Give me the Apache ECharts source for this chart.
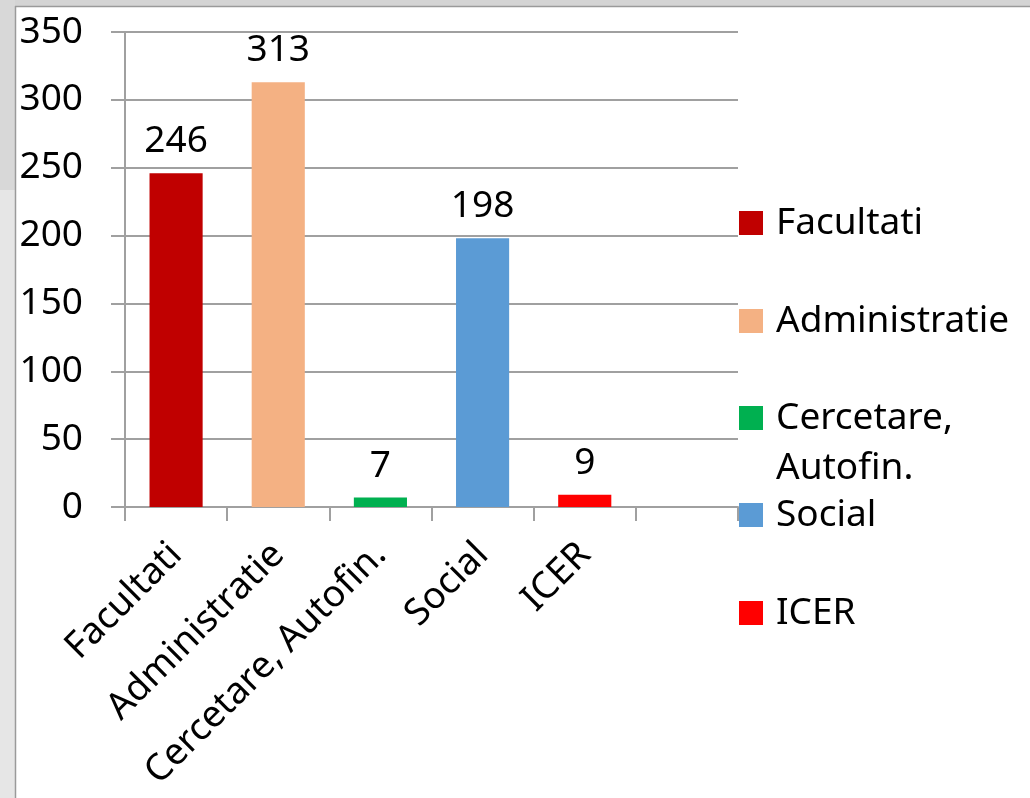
<!DOCTYPE html>
<html>
<head>
<meta charset="utf-8">
<script src="https://cdn.jsdelivr.net/npm/echarts@6/dist/echarts.min.js"></script>
<style>
  html, body { margin: 0; padding: 0; background: #fff; }
  #chart { width: 1030px; height: 798px; }
</style>
</head>
<body>
<div id="chart"></div>
<script>
// categorii (ultima e goala, ca in original)
const categories = ['Facultati', 'Administratie', 'Cercetare, Autofin.', 'Social', 'ICER', '']
const seriesNames = ['Facultati', 'Administratie', 'Cercetare, Autofin.', 'Social', 'ICER']
const values = [246, 313, 7, 198, 9]
const colors = ['#c00000', '#f4b183', '#00b050', '#5b9bd5', '#ff0000']
const yTicks = [0, 50, 100, 150, 200, 250, 300, 350]

// pozitia fiecarui element din legenda
const legendTops = [198, 296, 343, 490, 588]

const font = 'Noto Sans'
const fontSize = 37

let myChart = echarts.init(document.getElementById('chart'))

let series = seriesNames.map((name, i) => ({
  name: name,
  type: 'bar',
  stack: 'all',
  barWidth: '52%',
  data: categories.map((c, j) => (j === i ? values[i] : '-')),
  itemStyle: { color: colors[i] },
  label: {
    show: true,
    position: 'top',
    distance: 13,
    color: '#000',
    fontFamily: font,
    fontSize: fontSize
  },
  animation: false
}))

let legends = seriesNames.map((name, i) => ({
  data: [name],
  left: 739,
  top: legendTops[i],
  itemWidth: 24,
  itemHeight: 24,
  padding: 0,
  icon: 'rect',
  formatter: name === 'Cercetare, Autofin.' ? '\nCercetare,\nAutofin.' : null,
  textStyle: {
    color: '#000',
    fontFamily: font,
    fontSize: fontSize,
    lineHeight: 50,
    padding: [0, 0, 0, 8]
  },
  selectedMode: false
}))

myChart.setOption({
  backgroundColor: '#fff',
  textStyle: { fontFamily: font },
  graphic: [
    { type: 'rect', shape: { x: 0, y: 0, width: 1030, height: 6 }, style: { fill: '#d4d4d4' } },
    { type: 'rect', shape: { x: 0, y: 0, width: 15, height: 190 }, style: { fill: '#d8d8d8' } },
    { type: 'rect', shape: { x: 0, y: 190, width: 15, height: 608 }, style: { fill: '#e6e6e6' } },
    { type: 'line', shape: { x1: 15, y1: 6.5, x2: 1030, y2: 6.5 }, style: { stroke: '#9a9a9a', lineWidth: 1.5 } },
    { type: 'line', shape: { x1: 15.5, y1: 6, x2: 15.5, y2: 798 }, style: { stroke: '#9a9a9a', lineWidth: 1.5 } }
  ],
  grid: {
    left: 125,
    top: 32,
    right: 292,
    bottom: 291,
    containLabel: false
  },
  legend: legends,
  xAxis: {
    type: 'category',
    data: categories,
    boundaryGap: true,
    axisLine: { show: true, lineStyle: { color: '#a0a0a0', width: 2 } },
    axisTick: { show: true, length: 14, alignWithLabel: false, interval: 0, lineStyle: { color: '#a0a0a0', width: 2 } },
    axisLabel: {
      interval: 0,
      rotate: 45,
      margin: 42,
      color: '#000',
      fontFamily: font,
      fontSize: fontSize
    }
  },
  yAxis: {
    type: 'value',
    min: 0,
    max: 350,
    interval: 50,
    axisLine: { show: true, lineStyle: { color: '#a0a0a0', width: 2 } },
    axisTick: { show: true, length: 14, lineStyle: { color: '#a0a0a0', width: 2 } },
    axisLabel: {
      margin: 42,
      color: '#000',
      fontFamily: font,
      fontSize: fontSize,
      formatter: (v) => (yTicks.indexOf(v) >= 0 ? String(v) : '')
    },
    splitLine: { show: true, lineStyle: { color: '#a0a0a0', width: 2 } }
  },
  series: series
})
</script>
</body>
</html>
